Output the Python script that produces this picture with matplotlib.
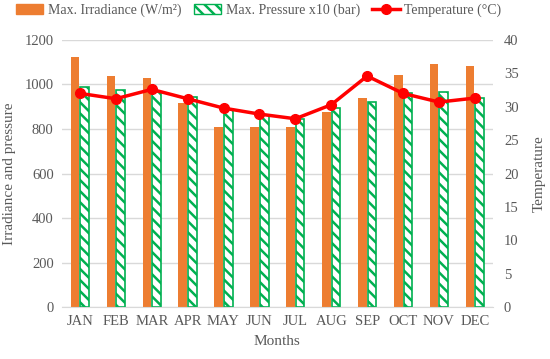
import numpy as np
import matplotlib.pyplot as plt
from matplotlib.lines import Line2D
from matplotlib.patches import Patch

# Data
months = ["JAN", "FEB", "MAR", "APR", "MAY", "JUN", "JUL", "AUG", "SEP", "OCT", "NOV", "DEC"]
irradiance = [1123, 1038, 1029, 917, 809, 810, 810, 878, 938, 1043, 1092, 1085]
pressure_x10 = [990, 974, 965, 945, 888, 862, 845, 893, 921, 960, 965, 938]
temperature = [32.0, 31.2, 32.6, 31.2, 29.8, 28.9, 28.2, 30.3, 34.6, 32.0, 30.7, 31.3]

orange = "#ED7D31"
green = "#00B050"
red = "#FF0000"
grey = "#595959"

plt.rcParams["font.family"] = ["Liberation Serif", "DejaVu Serif"]
plt.rcParams["hatch.color"] = green
plt.rcParams["hatch.linewidth"] = 1.8

fig = plt.figure(figsize=(5.5, 3.59), dpi=100)
ax1 = fig.add_axes([0.1127, 0.1448, 0.7833, 0.7438])

x = np.arange(len(months))
w = 0.24
ax1.bar(x - 0.135, irradiance, w, color=orange, zorder=2)
ax1.bar(x + 0.135, pressure_x10, w, facecolor="white", edgecolor=green,
        hatch="\\\\\\", linewidth=1.2, zorder=2)

ax1.set_ylim(0, 1200)
ax1.set_yticks(range(0, 1201, 200))
ax1.set_xlim(-0.5, len(months) - 0.5)
ax1.set_xticks(x)
ax1.set_xticklabels(months)
ax1.grid(axis="y", color="#d9d9d9", linewidth=1.0, zorder=0)
ax1.set_axisbelow(True)
for s in ["top", "right", "left"]:
    ax1.spines[s].set_visible(False)
ax1.spines["bottom"].set_color("#d9d9d9")
ax1.tick_params(length=0, labelsize=10.5, colors=grey, pad=6)
ax1.set_ylabel("Irradiance and pressure", fontsize=11, color=grey, labelpad=6)
ax1.set_xlabel("Months", fontsize=11, color=grey, labelpad=5)

ax2 = ax1.twinx()
ax2.plot(x, temperature, color=red, linewidth=2.5, marker="o", markersize=7, zorder=3)
ax2.set_ylim(0, 40)
ax2.set_yticks(range(0, 41, 5))
for s in ["top", "right", "left", "bottom"]:
    ax2.spines[s].set_visible(False)
ax2.tick_params(length=0, labelsize=10.5, colors=grey, pad=8)
ax2.set_ylabel("Temperature", fontsize=11, color=grey, labelpad=10)

handles = [
    Patch(facecolor=orange, edgecolor=orange),
    Patch(facecolor="white", edgecolor=green, hatch="\\\\\\"),
    Line2D([], [], color=red, linewidth=2.5, marker="o", markersize=7),
]
labels = ["Max. Irradiance (W/m²)", "Max. Pressure x10 (bar)", "Temperature (°C)"]
fig.legend(handles, labels, loc="upper center", bbox_to_anchor=(0.47, 1.025), ncol=3,
           frameon=False, fontsize=10, labelcolor=grey, handlelength=2.0,
           handletextpad=0.3, columnspacing=0.9)

fig.savefig("out.png", dpi=100)
